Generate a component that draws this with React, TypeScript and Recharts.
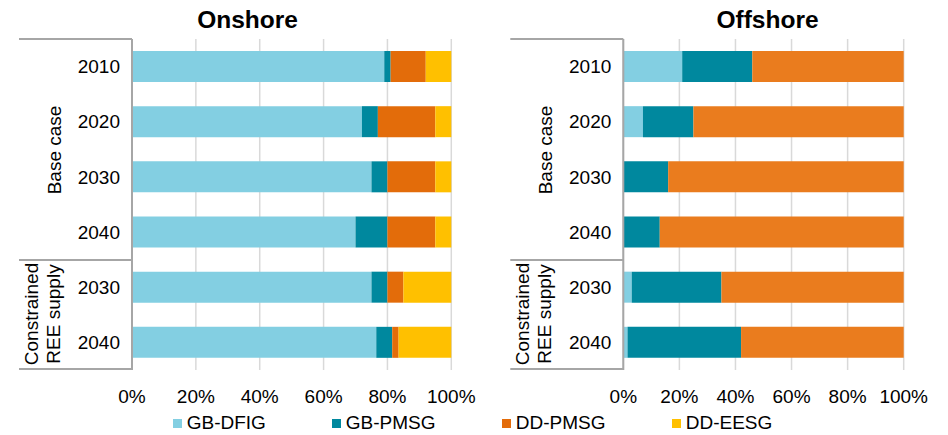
import React from 'react';
import { BarChart, Bar, XAxis, YAxis, CartesianGrid } from 'recharts';

const rowKeys = ['b2010', 'b2020', 'b2030', 'b2040', 'c2030', 'c2040'];
const yearLabels = ['2010', '2020', '2030', '2040', '2030', '2040'];
const seriesNames = ['GB-DFIG', 'GB-PMSG', 'DD-PMSG', 'DD-EESG'];
const xTicks = [0, 20, 40, 60, 80, 100];

const onshoreDFIG = [79, 72, 75, 70, 75, 76.5];
const onshoreGBPMSG = [2, 5, 5, 10, 5, 5];
const onshoreDDPMSG = [11, 18, 15, 15, 5, 2];
const onshoreEESG = [8, 5, 5, 5, 15, 16.5];

const offshoreDFIG = [21, 7, 0, 0, 3, 1.5];
const offshoreGBPMSG = [25, 18, 16, 13, 32, 40.5];
const offshoreDDPMSG = [54, 75, 84, 87, 65, 58];
const offshoreEESG = [0, 0, 0, 0, 0, 0];

const legendColors = ['#83CFE2', '#00889E', '#E36C0A', '#FFC000'];
const onshoreColors = ['#83CFE2', '#00889E', '#E36C0A', '#FFC000'];
const offshoreColors = ['#83CFE2', '#00889E', '#EA7C1E', '#FFC000'];

const buildRows = (a: number[], b: number[], c: number[], d: number[]) =>
  rowKeys.map((k, i) => ({ key: k, year: yearLabels[i], s0: a[i], s1: b[i], s2: c[i], s3: d[i] }));

const onshoreData = buildRows(onshoreDFIG, onshoreGBPMSG, onshoreDDPMSG, onshoreEESG);
const offshoreData = buildRows(offshoreDFIG, offshoreGBPMSG, offshoreDDPMSG, offshoreEESG);

const FONT = '"Liberation Sans", Arial, sans-serif';

type PanelProps = {
  data: any[];
  colors: string[];
  left: number;
  width: number;
  yWidth: number;
  rightMargin: number;
  title: string;
  titleX: number;
};

const Panel = ({ data, colors, left, width, yWidth, rightMargin, title, titleX }: PanelProps) => {
  const axisX = yWidth;
  const lineColor = '#A6A6A6';
  const labelCenter = axisX - 78;
  return (
    <div style={{ position: 'absolute', left, top: 0, width, height: 435 }}>
      <BarChart
        width={width}
        height={435}
        layout="vertical"
        data={data}
        margin={{ top: 39, right: rightMargin, bottom: 0, left: 0 }}
        barSize={31}
      >
        <CartesianGrid horizontal={false} vertical={true} stroke="#D9D9D9" strokeWidth={1.5} />
        <XAxis
          type="number"
          domain={[0, 100]}
          ticks={xTicks}
          tickFormatter={(v: number) => v + '%'}
          axisLine={false}
          tickLine={false}
          tickSize={0}
          tickMargin={20}
          height={65}
          interval={0}
          tick={{ fill: '#000', fontSize: 19, fontFamily: FONT }}
        />
        <YAxis
          type="category"
          dataKey="key"
          width={yWidth}
          tickFormatter={(v: string) => yearLabels[rowKeys.indexOf(v)]}
          axisLine={{ stroke: lineColor, strokeWidth: 2 }}
          tickLine={false}
          tickSize={0}
          tickMargin={12}
          interval={0}
          tick={{ fill: '#000', fontSize: 19, fontFamily: FONT }}
        />
        {seriesNames.map((n, i) => (
          <Bar
            key={n}
            dataKey={'s' + i}
            name={n}
            stackId="a"
            fill={colors[i]}
            isAnimationActive={false}
          />
        ))}
      </BarChart>
      <svg
        width={width}
        height={435}
        style={{ position: 'absolute', left: 0, top: 0, pointerEvents: 'none' }}
      >
        <line x1={axisX - 113} x2={axisX} y1={39} y2={39} stroke={lineColor} strokeWidth={2} />
        <line x1={axisX - 113} x2={axisX} y1={260} y2={260} stroke={lineColor} strokeWidth={2} />
        <line x1={axisX - 113} x2={axisX} y1={369} y2={369} stroke={lineColor} strokeWidth={2} />
        <text
          x={0}
          y={0}
          transform={`translate(${labelCenter + 7}, 150) rotate(-90)`}
          textAnchor="middle"
          fontSize={19}
          fontFamily={FONT}
          fill="#000"
        >
          Base case
        </text>
        <text
          x={0}
          y={0}
          transform={`translate(${labelCenter - 16}, 314) rotate(-90)`}
          textAnchor="middle"
          fontSize={19}
          fontFamily={FONT}
          fill="#000"
        >
          Constrained
        </text>
        <text
          x={0}
          y={0}
          transform={`translate(${labelCenter + 6}, 314) rotate(-90)`}
          textAnchor="middle"
          fontSize={19}
          fontFamily={FONT}
          fill="#000"
        >
          REE supply
        </text>
        <text
          x={titleX}
          y={28}
          textAnchor="middle"
          fontSize={24.5}
          fontWeight="bold"
          fontFamily={FONT}
          fill="#000"
        >
          {title}
        </text>
      </svg>
    </div>
  );
};

const legendLefts = [172.7, 331.7, 501.7, 671.7];

export default function App() {
  return (
    <div
      style={{
        position: 'absolute',
        left: 0,
        top: 0,
        width: 948,
        height: 435,
        background: '#fff',
        fontFamily: FONT,
        overflow: 'hidden',
      }}
    >
      <Panel
        data={onshoreData}
        colors={onshoreColors}
        left={0}
        width={480}
        yWidth={132}
        rightMargin={28.7}
        title="Onshore"
        titleX={247.5}
      />
      <Panel
        data={offshoreData}
        colors={offshoreColors}
        left={480}
        width={468}
        yWidth={143.3}
        rightMargin={44.3}
        title="Offshore"
        titleX={287.5}
      />
      {seriesNames.map((n, i) => (
        <div
          key={n}
          style={{
            position: 'absolute',
            left: legendLefts[i],
            top: 412,
            height: 22,
            display: 'flex',
            alignItems: 'center',
            fontSize: 19,
            color: '#000',
            whiteSpace: 'nowrap',
          }}
        >
          <span
            style={{ display: 'inline-block', width: 9, height: 9, background: legendColors[i], marginRight: 5 }}
          />
          <span>{n}</span>
        </div>
      ))}
    </div>
  );
}
